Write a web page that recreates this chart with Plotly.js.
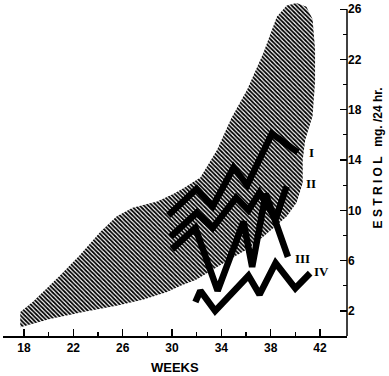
<!DOCTYPE html>
<html>
<head>
<meta charset="utf-8">
<script src="https://cdn.plot.ly/plotly-3.0.1.min.js"></script>
<style>html,body{margin:0;padding:0;background:#fff;}#chart{width:389px;height:376px;}</style>
</head>
<body>
<div id="chart"></div>
<script>
// Normal range band (polygon outline: upper edge, right edge, lower edge)
const bandWeeks = [17.7,18.7,20.9,22.5,24.2,25.5,26.8,28.8,30.1,31.0,32.3,33.65,34.8,36.1,37.4,38.5,39.3,40.1,40.9,
                   41.4,41.6,41.6,41.4,40.8,40.6,40.6,40.1,39.3,
                   37.4,36.1,34.7,33.3,32.0,30.7,29.6,27.7,25.5,22.8,20.1,17.7,17.7];
const bandValues = [1.9,2.7,4.8,6.4,8.3,9.5,10.2,10.7,11.3,11.8,12.6,14.8,17.3,19.6,22.5,25.4,26.3,26.5,26.2,
                    25.2,22.8,20.2,17.5,15.6,14.0,12.2,10.6,9.5,
                    7.9,6.9,6.1,5.3,4.5,4.0,3.5,2.9,2.4,1.9,1.35,0.7,1.9];

// Patient curves
const weeksI  = [29.7,32.0,33.3,35.0,36.1,38.1,40.2];
const valuesI = [9.6,11.7,10.3,13.4,12.0,16.1,14.6];
const weeksII  = [29.9,32.0,33.3,35.2,36.2,37.1,38.4,39.3];
const valuesII = [7.9,9.8,8.6,11.0,10.0,11.4,9.3,11.9];
const weeksIII  = [30.0,31.9,33.7,35.8,36.5,37.6,39.4];
const valuesIII = [6.9,8.6,3.6,9.1,5.5,11.3,6.3];
const weeksIV  = [31.9,32.3,33.5,36.2,37.1,38.4,40.0,41.2];
const valuesIV = [2.7,3.6,2.0,4.8,3.3,5.8,3.8,5.0];

// Curve labels
const labelText  = ['I','II','III','IV'];
const labelWeeks = [41.35,41.27,40.62,42.16];
const labelVals  = [14.6,12.1,6.2,5.1];

// Axis ticks
const xTicks = [18,22,26,30,34,38,42];
const yTicks = [2,6,10,14,18,22,26];

const sans = 'Liberation Sans, Arial, sans-serif';
const curveLine = {color:'#000', width:6.5};

const traces = [
  {x: bandWeeks, y: bandValues, type:'scatter', mode:'lines', fill:'toself',
   line:{width:0, color:'rgba(0,0,0,0)'}, fillcolor:'#fff',
   fillpattern:{shape:'\\', size:3, solidity:0.6, fgcolor:'#000', bgcolor:'#fff'}, hoverinfo:'skip'},
  {x: weeksI, y: valuesI, type:'scatter', mode:'lines', line:curveLine},
  {x: weeksII, y: valuesII, type:'scatter', mode:'lines', line:curveLine},
  {x: weeksIII, y: valuesIII, type:'scatter', mode:'lines', line:curveLine},
  {x: weeksIV, y: valuesIV, type:'scatter', mode:'lines', line:curveLine}
];

const annotations = labelText.map((t,i)=>({
  x: labelWeeks[i], y: labelVals[i], xref:'x', yref:'y', text:t, showarrow:false,
  font:{family:'Liberation Serif, Times New Roman, serif', size:13, color:'#000', weight:'bold'}
}));
annotations.push({x:0.5, y:-0.095, xref:'paper', yref:'paper', text:'WEEKS', showarrow:false,
  yanchor:'middle', font:{family:sans, size:13, color:'#000', weight:'bold'}});
annotations.push({x:1.09, y:14.2, xref:'paper', yref:'y', text:'E S T R I O L   mg. /24 hr.', showarrow:false,
  textangle:-90, xanchor:'center', yanchor:'middle', font:{family:sans, size:12, color:'#000', weight:'bold'}});

const layout = {
  width:389, height:376,
  margin:{l:3, r:42, t:1, b:40},
  paper_bgcolor:'#fff', plot_bgcolor:'#fff',
  showlegend:false,
  xaxis:{range:[16.3,44.19], tickvals:xTicks, ticks:'inside', ticklen:7, tickwidth:1.3, tickcolor:'#000',
         showline:true, linecolor:'#000', linewidth:1.5, showgrid:false, zeroline:false,
         minor:{tickvals:[20,24,28,32,36,40], ticks:'inside', ticklen:4, tickwidth:1.2, tickcolor:'#000', showgrid:false},
         tickfont:{family:sans, size:12, color:'#000', weight:'bold'}},
  yaxis:{range:[0,26.65], side:'right', tickvals:yTicks, ticks:'inside', ticklen:7, tickwidth:1.3, tickcolor:'#000',
         showline:false, showgrid:false, zeroline:false,
         minor:{tickvals:[4,8,12,16,20,24], ticks:'inside', ticklen:4, tickwidth:1.2, tickcolor:'#000', showgrid:false},
         tickfont:{family:sans, size:12, color:'#000', weight:'bold'}},
  shapes:[{type:'line', xref:'paper', x0:1, x1:1, yref:'y', y0:0, y1:26, line:{color:'#000', width:1.5}}],
  annotations: annotations
};

Plotly.newPlot('chart', traces, layout, {staticPlot:true, displayModeBar:false});
</script>
</body>
</html>
